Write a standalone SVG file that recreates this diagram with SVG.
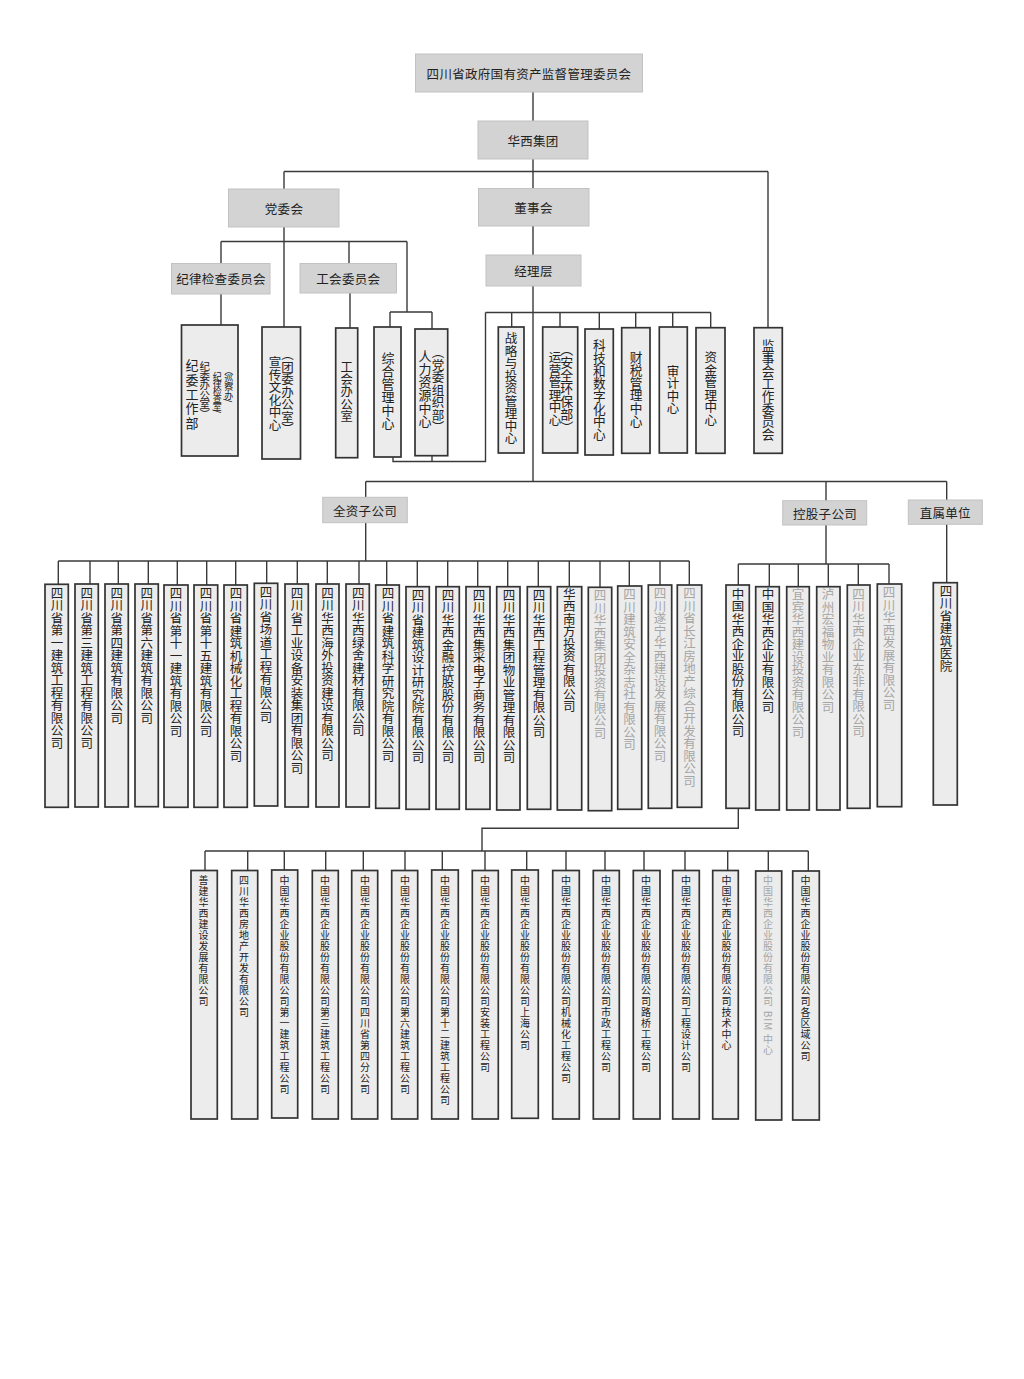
<svg xmlns="http://www.w3.org/2000/svg" width="1024" height="1379" viewBox="0 0 1024 1379">
<style>
.hdr{fill:#d3d3d3;stroke:#c2c2c2;stroke-width:1}
.box{fill:#ececec;stroke:#333;stroke-width:1.7}
.ln{stroke:#3a3a3a;stroke-width:1.4;fill:none}
.t{font-family:"Noto Sans CJK SC","Noto Sans",sans-serif;fill:#222}
.ht{font-size:12.5px;letter-spacing:0.3px;text-anchor:middle;dominant-baseline:central}
.v{writing-mode:vertical-rl;font-size:12.5px}
.vs{writing-mode:vertical-rl;font-size:10px;letter-spacing:1px}
.g{fill:#a5a5a5}
</style>
<rect width="1024" height="1379" fill="#fff"/>
<g id="connectors" class="ln">
<path d="M533,92V121M533,159V188M284,171.5H768M284,171.5V189M768,171.5V328M533,226V255M533,286V481"/>
<path d="M284,227V327M221,241.5H407M221,241.5V263M349,241.5V263M407,241.5V312M221,294V325M350,293V328M390,312H432M390,312V327M432,312V329M393,457V461.5H485.5V312.5M432,456V461.5M485.5,312.5H711"/>
<path d="M511.7,312.5V327M560,312.5V327M599.3,312.5V329M635.7,312.5V328M672.7,312.5V327M710.7,312.5V328"/>
<path d="M365.7,481.5H946.7M365.7,481.5V497M826,481.5V501M946.7,481.5V500M365.7,523V561M58.3,561H689.3"/>
<path d="M58.3,561V584M90,561V584M118.3,561V584M148.3,561V584M177.3,561V585M206.7,561V585M235.7,561V585M266.7,561V583M297.3,561V584M327.3,561V584M359,561V584M386.7,561V585M417.3,561V586.7M447.7,561V586.7M477.7,561V586.7M507.7,561V586.7M538.3,561V586.7M569.3,561V586.7M600,561V587M629.3,561V586M660,561V585M689.3,561V585"/>
<path d="M826,525V564M738.3,564H889M738.3,564V585M769.3,564V586.7M798.3,564V586.7M828.3,564V586.7M858.3,564V585M889,564V584M946.7,524V582.7"/>
<path d="M738.3,808V828.3H482V851M205,851H808.3"/>
<path d="M205,851V870.5M247.7,851V870.5M284.3,851V870M325.7,851V870.5M363.3,851V870.5M405,851V870.5M442.3,851V870M485,851V870.5M526.7,851V870M566,851V870.5M605,851V870.5M644,851V870.5M685,851V870.5M727.7,851V870.5M768.3,851V871M808.3,851V871"/>
</g>
<g id="n-sasac"><rect class="hdr" x="415.5" y="54" width="227" height="38"/><text class="t ht" x="529" y="73">四川省政府国有资产监督管理委员会</text></g>
<g id="n-huaxi"><rect class="hdr" x="478" y="121" width="110" height="38"/><text class="t ht" x="533" y="140">华西集团</text></g>
<g id="n-dangwei"><rect class="hdr" x="228.5" y="189" width="110.5" height="38"/><text class="t ht" x="284" y="208">党委会</text></g>
<g id="n-dongshi"><rect class="hdr" x="478.5" y="188.5" width="110.5" height="37.5"/><text class="t ht" x="533.5" y="207.5">董事会</text></g>
<g id="n-jingli"><rect class="hdr" x="486" y="255" width="95" height="31"/><text class="t ht" x="533.5" y="270.5">经理层</text></g>
<g id="n-jiwei"><rect class="hdr" x="171.5" y="263.5" width="98.5" height="30.5"/><text class="t ht" x="221" y="278.5">纪律检查委员会</text></g>
<g id="n-gonghui"><rect class="hdr" x="300" y="263.5" width="96.5" height="29.5"/><text class="t ht" x="348.3" y="278">工会委员会</text></g>
<g id="n-quanzi"><rect class="hdr" x="322.7" y="497.3" width="84.6" height="25.4"/><text class="t ht" x="365" y="510.5">全资子公司</text></g>
<g id="n-konggu"><rect class="hdr" x="782.7" y="500.7" width="84" height="24.3"/><text class="t ht" x="825" y="513">控股子公司</text></g>
<g id="n-zhishu"><rect class="hdr" x="908.3" y="500" width="74" height="24.3"/><text class="t ht" x="945.3" y="512">直属单位</text></g>

<g id="n-jiweigzb"><rect class="box" x="181.5" y="325" width="56.5" height="131"/>
<text class="t v" x="192" y="359" style="font-size:13px;letter-spacing:1.3px">纪委工作部</text>
<text class="t v" x="204.7" y="361" style="font-size:10.5px;letter-spacing:-1px">纪委办公室）</text>
<text class="t v" x="217.3" y="372" style="font-size:9px;letter-spacing:-1.5px">纪律检查室/</text>
<text class="t v" x="228.7" y="366" style="font-size:9px;letter-spacing:-0.8px">（巡察办/</text></g>
<g id="n-xuanchuan"><rect class="box" x="262" y="327" width="38.5" height="132"/>
<text class="t v" x="275" y="356">宣传文化中心</text>
<text class="t v" x="287.5" y="348">（团委办公室）</text></g>
<g id="n-ghbgs"><rect class="box" x="335.7" y="328" width="22" height="129.7"/><text class="t v" x="346.7" y="361" style="font-size:12.3px">工会办公室</text></g>
<g id="n-zonghe"><rect class="box" x="374" y="327" width="27" height="130"/><text class="t v" x="388" y="352" style="font-size:13px">综合管理中心</text></g>
<g id="n-renli"><rect class="box" x="415" y="329" width="32.7" height="126.7"/>
<text class="t v" x="425" y="349.5" style="font-size:13px">人力资源中心</text>
<text class="t v" x="438" y="346" style="font-size:12.5px">（党委组织部）</text></g>
<g id="n-zhanlue"><rect class="box" x="498.3" y="327" width="25.7" height="126"/><text class="t v" x="511" y="332">战略与投资管理中心</text></g>
<g id="n-yunying"><rect class="box" x="542.7" y="327" width="35" height="126"/>
<text class="t v" x="555" y="351">运营管理中心</text>
<text class="t v" x="566.7" y="343" style="font-size:13px">（安全环保部）</text></g>
<g id="n-keji"><rect class="box" x="585" y="329" width="28.3" height="126"/><text class="t v" x="599.3" y="339" style="font-size:12.7px">科技和数字化中心</text></g>
<g id="n-caishui"><rect class="box" x="621.7" y="327.7" width="28.3" height="125.6"/><text class="t v" x="636" y="351" style="font-size:12.7px">财税管理中心</text></g>
<g id="n-shenji"><rect class="box" x="659.3" y="327" width="28" height="126"/><text class="t v" x="673" y="364.5">审计中心</text></g>
<g id="n-zijin"><rect class="box" x="696" y="327.7" width="29" height="125.6"/><text class="t v" x="710.7" y="351">资金管理中心</text></g>
<g id="n-jianshi"><rect class="box" x="754" y="327.7" width="28.3" height="125.6"/><text class="t v" x="768" y="339" style="font-size:12.7px">监事会工作委员会</text></g>

<g id="n-q1"><rect class="box" x="45" y="584.3" width="23.3" height="223"/><text class="t v" x="57" y="586.5">四川省第一建筑工程有限公司</text></g>
<g id="n-q2"><rect class="box" x="75" y="584" width="23.3" height="223"/><text class="t v" x="86.7" y="586.5">四川省第三建筑工程有限公司</text></g>
<g id="n-q3"><rect class="box" x="105" y="584" width="23.3" height="223"/><text class="t v" x="116.7" y="586.5">四川省第四建筑有限公司</text></g>
<g id="n-q4"><rect class="box" x="135" y="584" width="23.3" height="222.7"/><text class="t v" x="146.7" y="586.5">四川省第六建筑有限公司</text></g>
<g id="n-q5"><rect class="box" x="164" y="585" width="24" height="222.3"/><text class="t v" x="176" y="587">四川省第十一建筑有限公司</text></g>
<g id="n-q6"><rect class="box" x="194" y="585" width="23.7" height="222.3"/><text class="t v" x="206" y="587">四川省第十五建筑有限公司</text></g>
<g id="n-q7"><rect class="box" x="224" y="585" width="23.3" height="222.3"/><text class="t v" x="236" y="587">四川省建筑机械化工程有限公司</text></g>
<g id="n-q8"><rect class="box" x="254.3" y="583.3" width="23.4" height="222.7"/><text class="t v" x="266" y="585.5">四川省场道工程有限公司</text></g>
<g id="n-q9"><rect class="box" x="285" y="584" width="23.3" height="223"/><text class="t v" x="297" y="586.5">四川省工业设备安装集团有限公司</text></g>
<g id="n-q10"><rect class="box" x="316" y="584" width="23" height="223"/><text class="t v" x="327.5" y="586.5">四川华西海外投资建设有限公司</text></g>
<g id="n-q11"><rect class="box" x="346" y="584" width="23.3" height="223"/><text class="t v" x="358.3" y="586.5">四川华西绿舍建材有限公司</text></g>
<g id="n-q12"><rect class="box" x="375.7" y="585" width="23.6" height="223.3"/><text class="t v" x="388" y="587">四川省建筑科学研究院有限公司</text></g>
<g id="n-q13"><rect class="box" x="406" y="586.7" width="23.3" height="222.6"/><text class="t v" x="418" y="588.5">四川省建筑设计研究院有限公司</text></g>
<g id="n-q14"><rect class="box" x="436" y="586.7" width="23.3" height="222.6"/><text class="t v" x="448" y="588.5">四川华西金融控股股份有限公司</text></g>
<g id="n-q15"><rect class="box" x="466" y="586.7" width="24" height="222.6"/><text class="t v" x="479" y="588.5">四川华西集采电子商务有限公司</text></g>
<g id="n-q16"><rect class="box" x="496.7" y="586.7" width="23.3" height="223.3"/><text class="t v" x="509" y="588.5">四川华西集团物业管理有限公司</text></g>
<g id="n-q17"><rect class="box" x="527.3" y="586.7" width="23.4" height="222.6"/><text class="t v" x="539" y="588.5">四川华西工程管理有限公司</text></g>
<g id="n-q18"><rect class="box" x="557.3" y="586.7" width="24.4" height="223.3"/><text class="t v" x="569.3" y="587.5">华西南方投资有限公司</text></g>
<g id="n-q19"><rect class="box" x="588.3" y="587.3" width="23.4" height="223.4"/><text class="t v g" x="600" y="589">四川华西集团投资有限公司</text></g>
<g id="n-q20"><rect class="box" x="617.7" y="586" width="24" height="223.3"/><text class="t v g" x="629.5" y="588">四川建筑安全杂志社有限公司</text></g>
<g id="n-q21"><rect class="box" x="648.3" y="585" width="23.4" height="223.3"/><text class="t v g" x="660" y="587">四川遂宁华西建设发展有限公司</text></g>
<g id="n-q22"><rect class="box" x="677.3" y="585" width="24.4" height="222.3"/><text class="t v g" x="689.5" y="587">四川省长江房地产综合开发有限公司</text></g>

<g id="n-k1"><rect class="box" x="726" y="585" width="23.3" height="223.3"/><text class="t v" x="738" y="587.5">中国华西企业股份有限公司</text></g>
<g id="n-k2"><rect class="box" x="755.7" y="586.7" width="23.6" height="223.3"/><text class="t v" x="768" y="588">中国华西企业有限公司</text></g>
<g id="n-k3"><rect class="box" x="786.7" y="586.7" width="22.6" height="223.3"/><text class="t v g" x="798" y="588">宜宾华西建设投资有限公司</text></g>
<g id="n-k4"><rect class="box" x="816.7" y="586.7" width="23.3" height="223.3"/><text class="t v g" x="828" y="588">泸州宏福物业有限公司</text></g>
<g id="n-k5"><rect class="box" x="847.3" y="585" width="22.7" height="223.3"/><text class="t v g" x="858.5" y="587.5">四川华西企业东非有限公司</text></g>
<g id="n-k6"><rect class="box" x="877.3" y="584" width="24.4" height="222.7"/><text class="t v g" x="889" y="586">四川华西发展有限公司</text></g>
<g id="n-z1"><rect class="box" x="933.3" y="582.7" width="24" height="222.3"/><text class="t v" x="946" y="584.5">四川省建筑医院</text></g>

<g id="n-b1"><rect class="box" x="191" y="870.5" width="26.3" height="248.5"/><text class="t vs" x="203.5" y="875.5">善建华西建设发展有限公司</text></g>
<g id="n-b2"><rect class="box" x="231.7" y="870.5" width="26" height="248.5"/><text class="t vs" x="244" y="875.5">四川华西房地产开发有限公司</text></g>
<g id="n-b3"><rect class="box" x="271.7" y="870" width="26" height="248"/><text class="t vs" x="284.5" y="875.5">中国华西企业股份有限公司第一建筑工程公司</text></g>
<g id="n-b4"><rect class="box" x="312.3" y="870.5" width="26" height="248.5"/><text class="t vs" x="325" y="875.5">中国华西企业股份有限公司第三建筑工程公司</text></g>
<g id="n-b5"><rect class="box" x="351.7" y="870.5" width="26" height="248.5"/><text class="t vs" x="365" y="875.5">中国华西企业股份有限公司四川省第四分公司</text></g>
<g id="n-b6"><rect class="box" x="391.7" y="870.5" width="26" height="248.5"/><text class="t vs" x="405" y="875.5">中国华西企业股份有限公司第六建筑工程公司</text></g>
<g id="n-b7"><rect class="box" x="431.7" y="870" width="26.6" height="249"/><text class="t vs" x="445" y="875.5">中国华西企业股份有限公司第十二建筑工程公司</text></g>
<g id="n-b8"><rect class="box" x="472.3" y="870.5" width="26" height="248.5"/><text class="t vs" x="485" y="875.5">中国华西企业股份有限公司安装工程公司</text></g>
<g id="n-b9"><rect class="box" x="511.7" y="870" width="26.6" height="248.3"/><text class="t vs" x="525" y="875.5">中国华西企业股份有限公司上海公司</text></g>
<g id="n-b10"><rect class="box" x="552.7" y="870.5" width="26.6" height="248.5"/><text class="t vs" x="566" y="875.5">中国华西企业股份有限公司机械化工程公司</text></g>
<g id="n-b11"><rect class="box" x="593.3" y="870.5" width="26" height="248.5"/><text class="t vs" x="606" y="875.5">中国华西企业股份有限公司市政工程公司</text></g>
<g id="n-b12"><rect class="box" x="633.3" y="870.5" width="26.7" height="248.5"/><text class="t vs" x="646" y="875.5">中国华西企业股份有限公司路桥工程公司</text></g>
<g id="n-b13"><rect class="box" x="672.7" y="870.5" width="26.6" height="248.5"/><text class="t vs" x="686" y="875.5">中国华西企业股份有限公司工程设计公司</text></g>
<g id="n-b14"><rect class="box" x="712.7" y="870.5" width="25.6" height="248.5"/><text class="t vs" x="726.5" y="875.5">中国华西企业股份有限公司技术中心</text></g>
<g id="n-b15"><rect class="box" x="755.7" y="871" width="26" height="249"/><text class="t vs g" x="768" y="875.5">中国华西企业股份有限公司 BIM 中心</text></g>
<g id="n-b16"><rect class="box" x="792.7" y="871" width="26.6" height="249"/><text class="t vs" x="805.5" y="875.5">中国华西企业股份有限公司各区域公司</text></g>
</svg>
